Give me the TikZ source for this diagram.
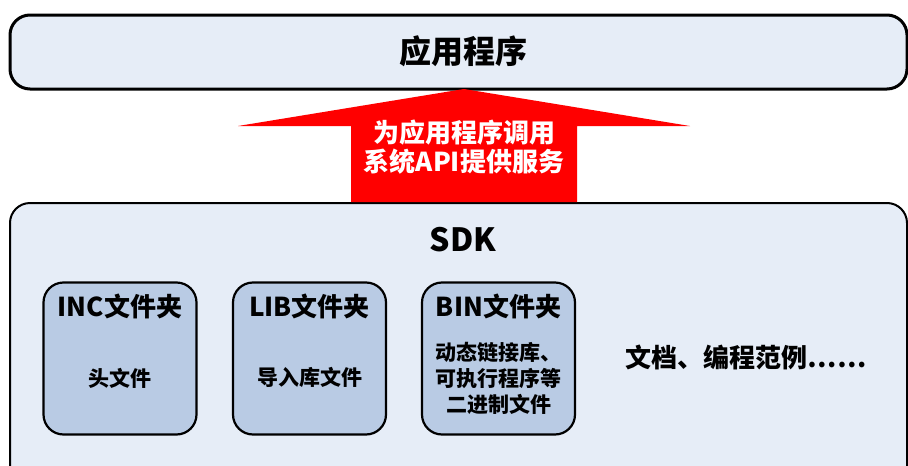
\documentclass[tikz,border=0pt]{standalone}
\usepackage{fontspec}
\setmainfont{Noto Sans CJK SC}
\definecolor{panelfill}{RGB}{230,237,247}
\definecolor{folderfill}{RGB}{185,203,228}
\definecolor{arrowred}{RGB}{255,0,0}
\tikzset{
  panel/.style={draw=black, line width=2pt, fill=panelfill, rounded corners=20pt, inner sep=0pt},
  folder/.style={draw=black, line width=2.2pt, fill=folderfill, rounded corners=20pt,
    minimum width=153pt, minimum height=152pt, inner sep=0pt},
  bigtext/.style={font=\fontsize{32}{36}\selectfont\bfseries},
  foldertitle/.style={font=\fontsize{26}{30}\selectfont\bfseries},
  foldertext/.style={font=\fontsize{21}{26}\selectfont\bfseries, align=center},
}
\begin{document}
\begin{tikzpicture}[x=1pt, y=-1pt]
  \clip (0,0) rectangle (908,466);
  % top layer
  \node[panel, line width=3pt, minimum width=897pt, minimum height=74pt] (app) at (458.5,52) {};
  \node[bigtext] (apptitle) at (463,51) {应用程序};
  % sdk layer
  \node[panel, minimum width=897pt, minimum height=287pt] (sdk) at (458.5,346.5) {};
  \node[bigtext] (sdktitle) at (463,240) {SDK};
  % block arrow between the layers
  \coordinate (tip) at (464,89);
  \fill[arrowred] (tip) -- (690,126) -- (577,126) -- (577,202) -- (351,202)
    -- (351,126) -- (238,126) -- cycle;
  \node[font=\fontsize{26}{29}\selectfont\bfseries, text=white, align=center] (apitext)
    at (464,147) {为应用程序调用\\系统API提供服务};
  % folders
  \node[folder] (inc) at (120,358.5) {};
  \node[folder] (lib) at (309.5,358.5) {};
  \node[folder] (bin) at (498.5,358.5) {};
  \node[foldertitle] (inctitle) at (120,306) {INC文件夹};
  \node[foldertitle] (libtitle) at (309.5,306) {LIB文件夹};
  \node[foldertitle] (bintitle) at (498.5,306) {BIN文件夹};
  \node[foldertext] (inctext) at (120,378) {头文件};
  \node[foldertext] (libtext) at (309.5,377) {导入库文件};
  \node[foldertext] (bintext) at (498.5,378) {动态链接库、\\可执行程序等\\二进制文件};
  \node[foldertitle] (docs) at (746,357) {文档、编程范例……};
\end{tikzpicture}
\end{document}
